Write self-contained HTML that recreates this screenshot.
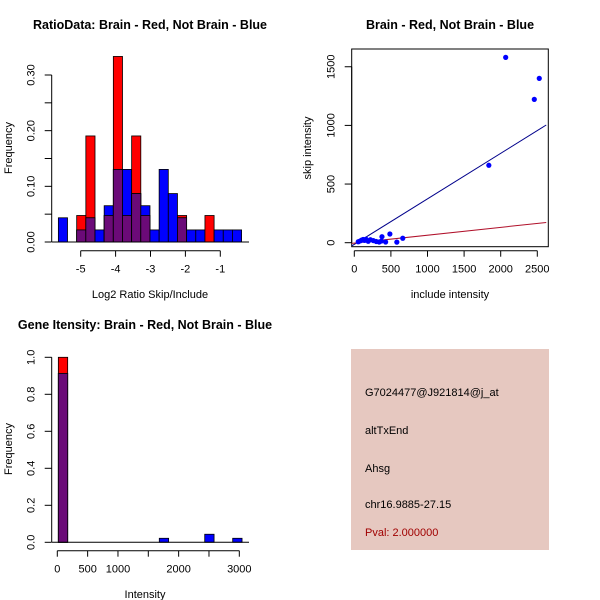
<!DOCTYPE html>
<html><head><meta charset="utf-8"><style>
body{margin:0;background:#fff}
svg{display:block;font-family:"Liberation Sans",sans-serif}
</style></head><body>
<svg id="root" width="600" height="600" viewBox="0 0 600 600">
<rect width="600" height="600" fill="#fff"/>
<g id="p1"></g>
<g id="p2"></g>
<g id="p3"></g>
<g>
<rect x="351" y="349" width="198" height="201" fill="#e6c8c0"/>
<text x="365" y="396" font-size="11">G7024477@J921814@j_at</text>
<text x="365" y="434" font-size="11">altTxEnd</text>
<text x="365" y="472" font-size="11">Ahsg</text>
<text x="365" y="508" font-size="11">chr16.9885-27.15</text>
<text x="365" y="536" font-size="11" fill="#a00000">Pval: 2.000000</text>
</g>
</svg>
<script>
// Plot 1 data: ratio histogram
const ratioBinStart = -5.64;
const ratioBinWidth = 0.2625;
const ratioRed  = [0,0,0.0476,0.1905,0,0.0476,0.3333,0.0476,0.1905,0.0476,0,0,0,0.0476,0,0,0.0476,0,0,0];
const ratioBlue = [0.0435,0,0.0217,0.0435,0.0217,0.0652,0.1304,0.1304,0.087,0.0652,0.0217,0.1304,0.087,0.0435,0.0217,0.0217,0,0.0217,0.0217,0.0217];
const ratioXTicks = [-5,-4,-3,-2,-1];
const ratioYTicks = [0,0.05,0.1,0.15,0.2,0.25,0.3];
const ratioYLabels = ["0.00","","0.10","","0.20","","0.30"];
// Plot 2 data: scatter
const incl = [2068,2527,2459,1838,486,378,662,581,54,100,80,120,140,160,190,220,260,300,340,370,428];
const skip = [1580,1401,1222,660,74,51,38,5,8,22,15,28,20,30,12,25,18,10,6,14,6];
const blueFit = [-14,0.388];
const redFit = [-3,0.067];
const scatXTicks = [0,500,1000,1500,2000,2500];
const scatYTicks = [0,500,1000,1500];
// Plot 3 data: intensity histogram
const intRedStart=[17]; const intRedH=[1.0];
const intBlueStart=[17,1681,2430,2891]; const intBlueH=[0.913,0.0217,0.0435,0.0217];
const intBinWidth = 154;
const intXTicks=[0,500,1000,1500,2000,2500,3000];
const intXLabels=["0","500","1000","","2000","","3000"];
const intYTicks=[0,0.2,0.4,0.6,0.8,1.0];

const NS="http://www.w3.org/2000/svg";
function mk(parent,tag,attrs,text){const e=document.createElementNS(NS,tag);for(const k in attrs)e.setAttribute(k,attrs[k]);if(text!==undefined)e.textContent=text;parent.appendChild(e);return e;}
const RED="#ff0000",BLUE="#0000ff",PURP="#6b0a78";

function histPlot(g,x,y,bars,yaxisX,xaxisY,xt,xl,yt,yl,x0,x1,base){
  bars.forEach((d,i)=>{
    const xa=x(d.s),xb=x(d.s+d.w);
    const mn=Math.min(d.r,d.b);
    if(d.r>0){const e=mk(g,'rect',{x:xa,y:y(d.r),width:xb-xa,height:base-y(d.r),fill:RED,stroke:'#000','stroke-width':0.8});
      
      }
    if(d.b>0){const e=mk(g,'rect',{x:xa,y:y(d.b),width:xb-xa,height:base-y(d.b),fill:BLUE,stroke:'#000','stroke-width':0.8});
      
      }
    if(mn>0){const e=mk(g,'rect',{x:xa,y:y(mn),width:xb-xa,height:base-y(mn),fill:PURP,stroke:'#000','stroke-width':0.8});
      
      }
  });
  const bl=mk(g,'line',{x1:x0,x2:x1,y1:base,y2:base,stroke:'#000'});
  
  
  axes(g,x,y,yaxisX,xaxisY,xt,xl,yt,yl);
}
function axes(g,x,y,yaxisX,xaxisY,xt,xl,yt,yl){
  const xa=mk(g,'g',{});
  
  
  mk(xa,'line',{x1:x(xt[0]),x2:x(xt[xt.length-1]),y1:xaxisY,y2:xaxisY,stroke:'#000'});
  xt.forEach((v,i)=>{mk(xa,'line',{x1:x(v),x2:x(v),y1:xaxisY,y2:xaxisY+6,stroke:'#000'});
    if(xl[i]!==""){const t=mk(xa,'text',{x:x(v),y:xaxisY+22,'font-size':11,'text-anchor':'middle'},xl[i]);
      
      }});
  const ya=mk(g,'g',{});
  
  
  mk(ya,'line',{y1:y(yt[0]),y2:y(yt[yt.length-1]),x1:yaxisX,x2:yaxisX,stroke:'#000'});
  yt.forEach((v,i)=>{mk(ya,'line',{y1:y(v),y2:y(v),x1:yaxisX,x2:yaxisX-7,stroke:'#000'});
    if(yl[i]!==""){const t=mk(ya,'text',{x:0,y:0,'font-size':11,'text-anchor':'middle',transform:`translate(${yaxisX-17},${y(v)}) rotate(-90)`},yl[i]);
      
      }});
}
function label(g,txt,x,y,opts,name){const t=mk(g,'text',Object.assign({x:x,y:y,'text-anchor':'middle','font-size':11},opts||{}),txt);
  
  return t;}

// Plot 1
(function(){
  const g=document.getElementById('p1');
  const x=v=>80.7+(v+5)*34.9, y=v=>242-v*556.7;
  const bars=ratioRed.map((r,i)=>({s:ratioBinStart+i*ratioBinWidth,w:ratioBinWidth,r:r,b:ratioBlue[i]}));
  histPlot(g,x,y,bars,51.7,250.7,ratioXTicks,ratioXTicks.map(String),ratioYTicks,ratioYLabels,52,249,242);
  label(g,"RatioData: Brain - Red, Not Brain - Blue",150,29,{'font-weight':'bold','font-size':12.5},'title');
  label(g,"Log2 Ratio Skip/Include",150,298,{},'x-axis-title');
  label(g,"Frequency",0,0,{transform:'translate(12,148) rotate(-90)'},'y-axis-title');
})();
// Plot 2
(function(){
  const g=document.getElementById('p2');
  const x=v=>354.3+v*0.0732, y=v=>242.7-v*0.1173;
  mk(g,'rect',{x:351.7,y:49,width:196.6,height:197.7,fill:'none',stroke:'#000'});
  axes(g,x,y,351.7,250.7,scatXTicks,scatXTicks.map(String),scatYTicks,scatYTicks.map(String));
  const xs=-35,xe=2622;
  const bl=mk(g,'line',{x1:x(xs),x2:x(xe),y1:y(blueFit[0]+blueFit[1]*xs),y2:y(blueFit[0]+blueFit[1]*xe),stroke:'#00008b'});
  
  
  const rl=mk(g,'line',{x1:x(xs),x2:x(xe),y1:y(redFit[0]+redFit[1]*xs),y2:y(redFit[0]+redFit[1]*xe),stroke:'#b0102a'});
  
  
  incl.forEach((v,i)=>{const c=mk(g,'circle',{cx:x(v),cy:y(skip[i]),r:2.6,fill:BLUE});
    
    });
  label(g,"Brain - Red, Not Brain - Blue",450,29,{'font-weight':'bold','font-size':12.5},'title');
  label(g,"include intensity",450,298,{},'x-axis-title');
  label(g,"skip intensity",0,0,{transform:'translate(311,148) rotate(-90)'},'y-axis-title');
})();
// Plot 3
(function(){
  const g=document.getElementById('p3');
  const x=v=>57.3+v*0.06067, y=v=>542.3-v*185;
  const bars=[];
  intBlueStart.forEach((s,i)=>{const ri=intRedStart.indexOf(s);bars.push({s:s,w:intBinWidth,r:ri>=0?intRedH[ri]:0,b:intBlueH[i]});});
  histPlot(g,x,y,bars,51.7,550.7,intXTicks,intXLabels,intYTicks,intYTicks.map(v=>v.toFixed(1)),52,249,542.3);
  label(g,"Gene Itensity: Brain - Red, Not Brain - Blue",145,329,{'font-weight':'bold','font-size':12.5},'title');
  label(g,"Intensity",145,598,{},'x-axis-title');
  label(g,"Frequency",0,0,{transform:'translate(12,449) rotate(-90)'},'y-axis-title');
})();
</script>
</body></html>
